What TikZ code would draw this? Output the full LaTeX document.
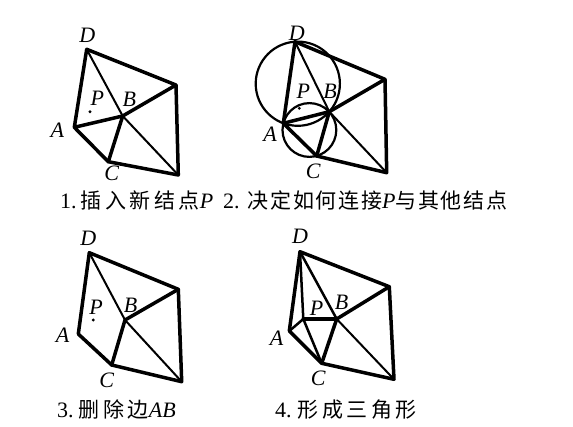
\documentclass[tikz,border=0pt]{standalone}
\usepackage{fontspec}
\setmainfont{Liberation Serif}
\newfontfamily\cjk[LetterSpace=17]{Noto Sans CJK SC}
\newfontfamily\cjkn[LetterSpace=8]{Noto Sans CJK SC}
\begin{document}
\begin{tikzpicture}[x=1pt,y=-1pt,
  edge/.style={line width=3.5pt,line cap=round,line join=round},
  thinedge/.style={line width=2pt,line cap=round,line join=round},
  midedge/.style={line width=2.5pt,line cap=round,line join=round},
  circ/.style={line width=2.2pt},
  lab/.style={font=\fontsize{22}{22}\selectfont\itshape,inner sep=0pt},
  capt/.style={anchor=base west,inner sep=0pt,font=\fontsize{22}{22}\selectfont},
  pdot/.style={fill=black}]
\useasboundingbox (0,0) rectangle (573,426);
% ---------- panel 1
\coordinate (D1) at (86.7,49.3);
\coordinate (E1) at (176,85);
\coordinate (F1) at (178.3,175);
\coordinate (A1) at (74.3,127.3);
\coordinate (B1) at (122.7,116);
\coordinate (C1) at (108.3,161.7);
\coordinate (P1) at (90,111.7);
\draw[edge] (A1) -- (D1) -- (E1) -- (F1) -- (C1) -- (A1) -- (B1) -- (E1);
\draw[edge] (B1) -- (C1);
\draw[thinedge] (D1) -- (B1) -- (F1);
\fill[pdot] (P1) circle (1.6);
\node[lab] (lD1) at (87.3,35) {D};
\node[lab] (lP1) at (97.3,98.3) {P};
\node[lab] (lB1) at (129.3,99.3) {B};
\node[lab] (lA1) at (57.3,130) {A};
\node[lab] (lC1) at (111.7,173.3) {C};
\node[capt] (cap1) at (60,208.3) {1.\kern4pt{\fontsize{21}{21}\cjk 插入新结点}\textit{P}};
% ---------- panel 2
\coordinate (D2) at (295,41.7);
\coordinate (E2) at (385,79.3);
\coordinate (F2) at (386.7,172.7);
\coordinate (A2) at (283.3,123.3);
\coordinate (B2) at (329.3,111.7);
\coordinate (C2) at (316.7,156);
\coordinate (P2) at (299.3,108.3);
\coordinate (O2a) at (297.8,83.7);
\coordinate (O2b) at (309.4,130);
\draw[circ] (O2a) circle (42.1);
\draw[circ] (O2b) circle (26.9);
\draw[edge] (A2) -- (D2) -- (E2) -- (F2) -- (C2) -- (A2) -- (B2) -- (E2);
\draw[edge] (B2) -- (C2);
\draw[thinedge] (D2) -- (B2) -- (F2);
\fill[pdot] (P2) circle (1.6);
\node[lab] (lD2) at (296.7,33.3) {D};
\node[lab] (lP2) at (303.3,91.7) {P};
\node[lab] (lB2) at (330,91.7) {B};
\node[lab] (lA2) at (270,134) {A};
\node[lab] (lC2) at (313.3,171.7) {C};
\node[capt] (cap2) at (223,208.3) {2.\kern8pt{\fontsize{21}{21}\cjkn 决定如何连接}\textit{P}{\fontsize{21}{21}\cjkn 与其他结点}};
% ---------- panel 3
\coordinate (D3) at (89.3,252.7);
\coordinate (E3) at (178.3,289.3);
\coordinate (F3) at (181.7,381.7);
\coordinate (A3) at (78.3,334);
\coordinate (B3) at (125,320);
\coordinate (C3) at (111.7,365);
\coordinate (P3) at (93.3,320);
\draw[edge] (A3) -- (D3) -- (E3) -- (F3) -- (C3) -- (A3);
\draw[edge] (B3) -- (E3);
\draw[edge] (B3) -- (C3);
\draw[thinedge] (D3) -- (B3) -- (F3);
\fill[pdot] (P3) circle (1.6);
\node[lab] (lD3) at (88.3,238.3) {D};
\node[lab] (lP3) at (96,307.3) {P};
\node[lab] (lB3) at (130.7,305) {B};
\node[lab] (lA3) at (62.7,335) {A};
\node[lab] (lC3) at (106.7,380.7) {C};
\node[capt] (cap3) at (57,417) {3.\kern5pt{\fontsize{21}{21}\cjk 删除边}\textit{AB}};
% ---------- panel 4
\coordinate (D4) at (300,251.7);
\coordinate (E4) at (389.3,286.7);
\coordinate (F4) at (394,379.3);
\coordinate (A4) at (289.3,331);
\coordinate (B4) at (336.7,319);
\coordinate (C4) at (321.7,363.3);
\coordinate (P4) at (303.3,319);
\draw[edge] (A4) -- (D4) -- (E4) -- (F4) -- (C4) -- (A4);
\draw[edge] (B4) -- (E4);
\draw[edge] (B4) -- (C4);
\draw[midedge] (D4) -- (B4);
\draw[thinedge] (B4) -- (F4);
\draw[midedge] (P4) -- (D4);
\draw[midedge] (P4) -- (A4);
\draw[edge] (P4) -- (B4);
\draw[midedge] (P4) -- (C4);
\node[lab] (lD4) at (300,236.7) {D};
\node[lab] (lP4) at (316.7,308) {P};
\node[lab] (lB4) at (341.5,302) {B};
\node[lab] (lA4) at (276.7,338.3) {A};
\node[lab] (lC4) at (318.3,378.3) {C};
\node[capt] (cap4) at (275,417) {4.\kern6pt{\fontsize{21}{21}\cjk 形成三角形}};
\end{tikzpicture}
\end{document}
